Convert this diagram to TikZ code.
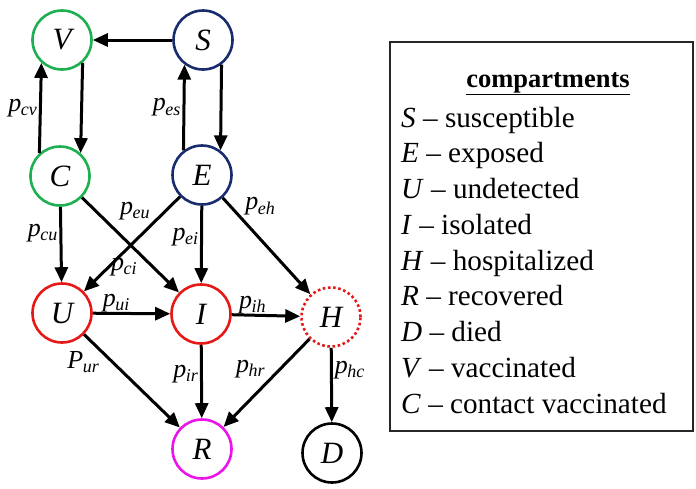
\documentclass[tikz,border=0pt]{standalone}
\usepackage{fontspec}
\setmainfont{Liberation Serif}
\usetikzlibrary{arrows.meta}
\definecolor{vacgreen}{RGB}{30,175,80}
\definecolor{susnavy}{RGB}{25,45,110}
\definecolor{infred}{RGB}{230,25,25}
\definecolor{recmag}{RGB}{235,20,235}
\newcommand{\rate}[2]{\textit{#1}\kern-0.5pt\raisebox{-0.35ex}{\fontsize{18}{18}\selectfont\textit{#2}}}
\tikzset{
    comp/.style={circle, draw, line width=2.6pt, minimum size=59pt, inner sep=0pt, font=\fontsize{31}{31}\selectfont\itshape},
    arrow/.style={-{Triangle[length=15pt, width=13pt]}, line width=3pt},
    lbl/.style={font=\fontsize{26}{26}\selectfont, inner sep=2pt},
    item/.style={anchor=base west, font=\fontsize{29.2}{29.2}\selectfont, inner sep=0pt},
}

\begin{document}
\begin{tikzpicture}[x=1pt, y=-1pt]
        \useasboundingbox (0,0) rectangle (696,488);
        % Nodes
        \node[comp, draw=vacgreen] (V) at (62,40) {V};
        \node[comp, draw=susnavy] (S) at (203,40) {S};
        \node[comp, draw=vacgreen] (C) at (60,176) {C};
        \node[comp, draw=susnavy] (E) at (202,175) {E};
        \node[comp, draw=infred] (U) at (62,313) {U};
        \node[comp, draw=infred] (I) at (201,314) {I};
        \node[comp, draw=infred, dash pattern=on 2.6pt off 2.6pt] (H) at (331,317) {H};
        \node[comp, draw=recmag] (R) at (202,449) {R};
        \node[comp, draw=black] (D) at (332,453) {D};

        % Arrows
        \draw[arrow] (S) -- (V);
        \draw[arrow] (V.-48) -- (C.48);
        \draw[arrow] (C.132) -- node[lbl, left] {\rate{p}{cv}} (V.-132);
        \draw[arrow] (S.-53) -- (E.53);
        \draw[arrow] (E.127) -- node[lbl, left] {\rate{p}{es}} (S.-127);
        \draw[arrow] (C) -- node[lbl, left, pos=0.35] {\rate{p}{cu}} (U);
        \draw[arrow] (C) -- node[lbl, below left, pos=0.6] {\rate{p}{ci}} (I);
        \draw[arrow] (E) -- node[lbl, above left, pos=0.28] {\rate{p}{eu}} (U);
        \draw[arrow] (E) -- node[lbl, left, pos=0.4] {\rate{p}{ei}} (I);
        \draw[arrow] (E) -- node[lbl, above right, pos=0.22] {\rate{p}{eh}} (H);
        \draw[arrow] (U) -- node[lbl, above, pos=0.3, inner sep=0pt] {\rate{p}{ui}} (I);
        \draw[arrow] (I) -- node[lbl, above, pos=0.3, inner sep=0pt] {\rate{p}{ih}} (H);
        \draw[arrow] (U) -- node[lbl, below left, pos=0.17, inner sep=0pt] {\rate{P}{ur}} (R);
        \draw[arrow] (I) -- node[lbl, left, pos=0.4] {\rate{p}{ir}} (R);
        \draw[arrow] (H) -- node[lbl, above left, pos=0.48] {\rate{p}{hr}} (R);
        \draw[arrow] (H) -- node[lbl, right, pos=0.3] {\rate{p}{hc}} (D);

        % Legend
        \node[draw=black!85, line width=2pt, minimum width=303pt, minimum height=389pt, inner sep=0pt] (legend) at (541.5,236.5) {};
        \node[anchor=base, font=\fontsize{26.5}{26.5}\selectfont\bfseries, inner sep=0pt] (title) at (548,87) {\underline{compartments}};
        \foreach \l/\w [count=\i] in {S/susceptible, E/exposed, U/undetected, I/isolated, H/hospitalized, R/recovered, D/died, V/vaccinated, C/contact vaccinated}
            \node[item] (item\i) at (401,{127+35.75*(\i-1)}) {\textit{\l} -- \w};
    \end{tikzpicture}
\end{document}
